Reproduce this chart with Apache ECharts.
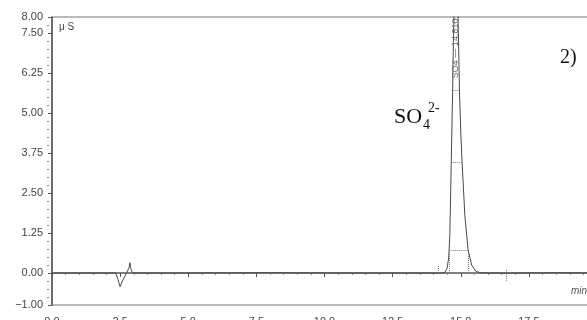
<!DOCTYPE html>
<html>
<head>
<meta charset="utf-8">
<script src="https://cdn.jsdelivr.net/npm/echarts@6/dist/echarts.min.js"></script>
<style>html,body{margin:0;padding:0;background:#fff;}#c{width:587px;height:320px;}</style>
</head>
<body>
<div id="c"></div>
<script>
// chromatogram trace: [time (min), conductivity (µS)]
const trace = [
  [0.00, 0.00], [1.00, 0.00], [2.00, 0.00], [2.34, 0.00], [2.42, -0.20], [2.50, -0.43],
  [2.60, -0.22], [2.70, -0.06], [2.77, 0.00], [2.82, 0.15], [2.86, 0.32], [2.90, 0.12],
  [2.95, 0.01], [3.10, 0.00], [5.00, 0.00], [8.00, 0.01], [11.00, 0.00], [13.50, 0.00],
  [14.30, 0.00], [14.42, 0.02], [14.50, 0.15], [14.56, 0.50], [14.60, 1.20], [14.65, 3.40],
  [14.70, 5.60], [14.73, 7.20], [14.76, 8.40], [14.80, 9.40], [14.84, 9.60], [14.88, 8.90],
  [14.92, 7.20], [14.95, 5.80], [15.00, 4.40], [15.05, 3.45], [15.15, 1.80], [15.27, 0.72],
  [15.40, 0.25], [15.55, 0.06], [15.70, 0.01], [16.00, 0.00], [17.00, 0.00], [18.50, 0.01],
  [20.00, 0.00]
];
// peak width markers [x1, x2, y]
const widthMarks = [[14.73, 14.95, 5.72], [14.65, 15.05, 3.47], [14.58, 15.27, 0.72]];
// vertical marker segments [x, y1, y2]
const vMarks = [[14.58, 0.72, 0], [15.27, 0.72, 0], [14.18, 0, 0.25], [16.67, 0.1, -0.25]];
const yMajor = [-1, 0, 1.25, 2.5, 3.75, 5, 6.25, 7.5, 8];
const yMinor = [-0.75,-0.5,-0.25,0.25,0.5,0.75,1,1.5,1.75,2,2.25,2.75,3,3.25,3.5,4,4.25,4.5,4.75,5.25,5.5,5.75,6,6.5,6.75,7,7.25,7.75];
const peakName = 'SO4 — 14.810';
const peakTime = 14.81;

const chart = echarts.init(document.getElementById('c'));
const gray = '#555';
const mlData = [];
widthMarks.forEach(function (w) {
  mlData.push([{ coord: [w[0], w[2]] }, { coord: [w[1], w[2]] }]);
});
vMarks.forEach(function (d) {
  mlData.push([{ coord: [d[0], d[1]] }, { coord: [d[0], d[2]] }]);
});
const serif = '"Liberation Serif", "Times New Roman", serif';

chart.setOption({
  animation: false,
  grid: { left: 52, right: -10, top: 17, bottom: 15, show: true, borderColor: '#777', borderWidth: 1,
    outerBoundsMode: 'none', containLabel: false },
  xAxis: {
    type: 'value', min: 0, max: 20, interval: 2.5, offset: 2,
    axisLine: { show: true, lineStyle: { color: gray, width: 1.5 } },
    axisTick: { show: true, length: 4, lineStyle: { color: gray } },
    minorTick: { show: true, splitNumber: 5, length: 2, lineStyle: { color: '#888' } },
    splitLine: { show: false },
    axisLabel: { color: '#444', fontSize: 11, fontFamily: 'Liberation Sans', margin: 9,
      hideOverlap: false,
      formatter: function (v) { return v.toFixed(1); } }
  },
  yAxis: [{
    type: 'value', min: -1, max: 8, offset: 3,
    axisLine: { show: true, lineStyle: { color: gray, width: 1.5 } },
    axisTick: { show: true, length: 4, customValues: yMajor, lineStyle: { color: gray } },
    splitLine: { show: false },
    axisLabel: { color: '#444', fontSize: 11, fontFamily: 'Liberation Sans', margin: 6,
      customValues: yMajor,
      formatter: function (v) { return (v < 0 ? '\u2212' + Math.abs(v).toFixed(2) : v.toFixed(2)); } }
  }, {
    type: 'value', min: -1, max: 8, offset: 3, position: 'left',
    axisLine: { show: false },
    axisTick: { show: true, length: 2, customValues: yMinor, lineStyle: { color: '#888' } },
    axisLabel: { show: false },
    splitLine: { show: false }
  }],
  series: [{
    type: 'line', data: trace, showSymbol: false, symbol: 'none', clip: true,
    lineStyle: { color: '#4a4a4a', width: 1 },
    markLine: {
      silent: true, symbol: 'none', animation: false,
      lineStyle: { color: '#777', width: 1, type: 'dotted' },
      label: { show: false },
      data: mlData
    },
    markPoint: {
      symbol: 'rect', symbolSize: 0,
      data: [{
        coord: [peakTime, 7.95],
        label: { show: true, formatter: peakName, rotate: 90, align: 'right', verticalAlign: 'middle',
          position: 'inside', color: '#666', fontSize: 9, fontFamily: 'Liberation Sans' }
      }]
    }
  }],
  graphic: [
    { type: 'text', left: 59, top: 22, style: { text: 'μ S', fill: '#444', font: '10px "Liberation Sans"' } },
    { type: 'text', left: 571, top: 286, style: { text: 'min', fill: '#555', font: 'italic 10px "Liberation Sans"' } },
    { type: 'text', left: 560, top: 48, style: { text: '2)', fill: '#111', font: '20px ' + serif } },
    { type: 'text', left: 394, top: 106, style: { text: 'SO', fill: '#111', font: '22px ' + serif } },
    { type: 'text', left: 423, top: 118, style: { text: '4', fill: '#111', font: '14px ' + serif } },
    { type: 'text', left: 428, top: 101, style: { text: '2-', fill: '#111', font: '14px ' + serif } }
  ]
});
</script>
</body>
</html>
